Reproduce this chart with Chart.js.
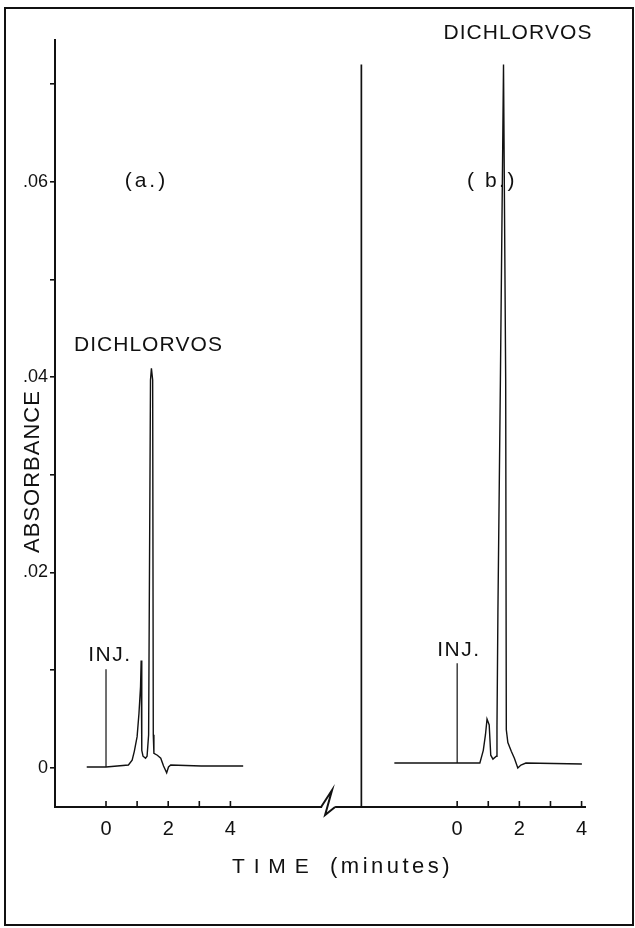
<!DOCTYPE html>
<html><head><meta charset="utf-8">
<script src="https://cdn.jsdelivr.net/npm/chart.js@4.4.1/dist/chart.umd.min.js"></script>
<style>html,body{margin:0;padding:0;background:#fff;}canvas{display:block;}</style>
</head><body>
<canvas id="c" width="635" height="928"></canvas>
<script>
// ---------- data (time in minutes, absorbance units) ----------
const traceA_time = [-0.62, 0.00, 0.72, 0.84, 0.91, 1.00, 1.06, 1.11, 1.13, 1.15, 1.19, 1.27, 1.32, 1.37, 1.43, 1.46, 1.50, 1.52, 1.54, 1.65, 1.76, 1.85, 1.95, 2.01, 2.08, 3.06, 4.41];
const traceA_abs  = [0.0001, 0.0001, 0.0003, 0.0008, 0.0017, 0.0032, 0.0056, 0.0083, 0.0110, 0.0018, 0.0012, 0.0010, 0.0012, 0.0034, 0.0397, 0.0409, 0.0397, 0.0034, 0.0015, 0.0013, 0.0010, 0.0002, -0.0005, 0.0001, 0.0003, 0.0002, 0.0002];
const traceB_time = [-2.02, 0.00, 0.73, 0.84, 0.91, 0.96, 1.03, 1.08, 1.15, 1.26, 1.28, 1.31, 1.39, 1.49, 1.56, 1.58, 1.63, 1.74, 1.84, 1.95, 2.05, 2.21, 4.01];
const traceB_abs  = [0.0005, 0.0005, 0.0005, 0.0018, 0.0034, 0.0050, 0.0044, 0.0013, 0.0009, 0.0012, 0.0042, 0.0159, 0.0397, 0.0720, 0.0397, 0.0039, 0.0026, 0.0017, 0.0010, 0.0000, 0.0003, 0.0005, 0.0004];
const injA = [0.00, 0.0001, 0.0101];   // time, base, top
const injB = [0.00, 0.0005, 0.0107];
const axisB = [-3.08, -0.0040, 0.0720]; // panel (b) pen axis: time, from, to
const yTickValues = [0, 0.01, 0.02, 0.03, 0.04, 0.05, 0.06, 0.07];
const yTickLabels = ['0', '', '.02', '', '.04', '', '.06', ''];
const xTickValues = [0, 1, 2, 3, 4];
const xTickLabels = ['0', '', '2', '', '4'];

// ---------- layout helpers ----------
const OFFSET_B = 11.29;   // where panel (b) sits on the shared time axis
const BREAK_AT = 7.14;    // axis break position (shared axis units)
const X_MIN = -1.64, X_MAX = 15.40, Y_MIN = -0.0040, Y_MAX = 0.0745;

const pts = (ts, vs, off) => ts.map((t, i) => ({x: t + off, y: vs[i]}));
const vline = (arr, off) => [{x: arr[0] + off, y: arr[1]}, {x: arr[0] + off, y: arr[2]}];

Chart.defaults.font.family = "'Liberation Sans', Arial, sans-serif";
Chart.defaults.color = '#111';

function spacedText(ctx, str, cx, cy, spacing, align) {
  let w = 0; const ws = [];
  for (const ch of str) { const m = ctx.measureText(ch).width; ws.push(m); w += m; }
  w += spacing * (str.length - 1);
  let x = align === 'left' ? cx : cx - w / 2;
  let i = 0;
  for (const ch of str) { ctx.fillText(ch, x, cy); x += ws[i++] + spacing; }
}

const decor = {
  id: 'decor',
  beforeDraw(chart) {
    const c = chart.ctx; c.save(); c.fillStyle = '#fff'; c.fillRect(0, 0, chart.width, chart.height); c.restore();
  },
  afterDraw(chart) {
    const {ctx, chartArea: a, scales: {x, y}} = chart;
    ctx.save();
    ctx.strokeStyle = '#111'; ctx.fillStyle = '#111';
    // frame
    ctx.lineWidth = 2;
    ctx.strokeRect(5, 8, 628, 917);
    // inward x ticks
    ctx.lineWidth = 1.6;
    const all = xTickValues.concat(xTickValues.map(v => v + OFFSET_B));
    all.forEach(v => { const px = x.getPixelForValue(v); ctx.beginPath(); ctx.moveTo(px, a.bottom); ctx.lineTo(px, a.bottom - 6); ctx.stroke(); });
    // axis break
    const bx = x.getPixelForValue(BREAK_AT), by = a.bottom;
    ctx.fillStyle = '#fff'; ctx.fillRect(bx - 6, by - 3, 13, 6);
    ctx.fillStyle = '#111';
    ctx.lineWidth = 2;
    ctx.beginPath(); ctx.moveTo(bx - 7, by); ctx.lineTo(bx + 4, by - 17); ctx.lineTo(bx - 3, by + 8); ctx.lineTo(bx + 7, by); ctx.stroke();
    // texts
    ctx.textBaseline = 'middle';
    ctx.font = "21px 'Liberation Sans', Arial, sans-serif";
    spacedText(ctx, 'DICHLORVOS', x.getPixelForValue(1.35), y.getPixelForValue(0.0433), 1, 'center');
    spacedText(ctx, 'DICHLORVOS', x.getPixelForValue(1.94 + OFFSET_B), y.getPixelForValue(0.0752), 1, 'center');
    spacedText(ctx, '(a.)', x.getPixelForValue(1.25), y.getPixelForValue(0.0600), 3, 'center');
    spacedText(ctx, '( b.)', x.getPixelForValue(1.08 + OFFSET_B), y.getPixelForValue(0.0600), 2.5, 'center');
    spacedText(ctx, 'INJ.', x.getPixelForValue(0.10), y.getPixelForValue(0.0115), 1.5, 'center');
    spacedText(ctx, 'INJ.', x.getPixelForValue(0.03 + OFFSET_B), y.getPixelForValue(0.0120), 1.5, 'center');
    // axis titles
    spacedText(ctx, 'T I M E', 232, 867, 1.5, 'left');
    ctx.font = "22px 'Liberation Sans', Arial, sans-serif";
    spacedText(ctx, '(minutes)', 330, 867, 3.5, 'left');
    ctx.save();
    ctx.translate(33, 472); ctx.rotate(-Math.PI / 2);
    spacedText(ctx, 'ABSORBANCE', 0, 0, 1, 'center');
    ctx.restore();
    ctx.restore();
  }
};

const lineDs = (data, w) => ({data, borderColor: '#111', borderWidth: w, pointRadius: 0, tension: 0, fill: false, clip: false});

new Chart(document.getElementById('c'), {
  type: 'line',
  data: {
    datasets: [
      lineDs(pts(traceA_time, traceA_abs, 0), 1.4),
      lineDs(pts(traceB_time, traceB_abs, OFFSET_B), 1.4),
      lineDs(vline(injA, 0), 1.2),
      lineDs(vline(injB, OFFSET_B), 1.2),
      lineDs(vline(axisB, OFFSET_B), 1.7)
    ]
  },
  options: {
    responsive: false, animation: false, devicePixelRatio: 1,
    parsing: true,
    layout: {padding: {top: 40, right: 50, left: 0, bottom: 0}},
    plugins: {legend: {display: false}, tooltip: {enabled: false}, title: {display: false}},
    scales: {
      x: {
        type: 'linear', min: X_MIN, max: X_MAX,
        afterFit: s => { s.height = 121; },
        afterBuildTicks: s => { s.ticks = xTickValues.concat(xTickValues.map(v => v + OFFSET_B)).map(v => ({value: v})); },
        grid: {display: false, drawTicks: false},
        border: {display: true, color: '#111', width: 2},
        ticks: {autoSkip: false, maxRotation: 0, padding: 10, color: '#111', font: {size: 20},
                callback: (v, i) => xTickLabels[i % xTickLabels.length]}
      },
      y: {
        type: 'linear', min: Y_MIN, max: Y_MAX,
        afterFit: s => { s.width = 55; },
        afterBuildTicks: s => { s.ticks = yTickValues.map(v => ({value: v})); },
        grid: {display: true, drawOnChartArea: false, drawTicks: true, tickLength: 5, color: '#111', lineWidth: 1.6},
        border: {display: true, color: '#111', width: 2},
        ticks: {autoSkip: false, padding: 2, color: '#111', font: {size: 18},
                callback: (v, i) => yTickLabels[i]}
      }
    }
  },
  plugins: [decor]
});
</script>
</body></html>
